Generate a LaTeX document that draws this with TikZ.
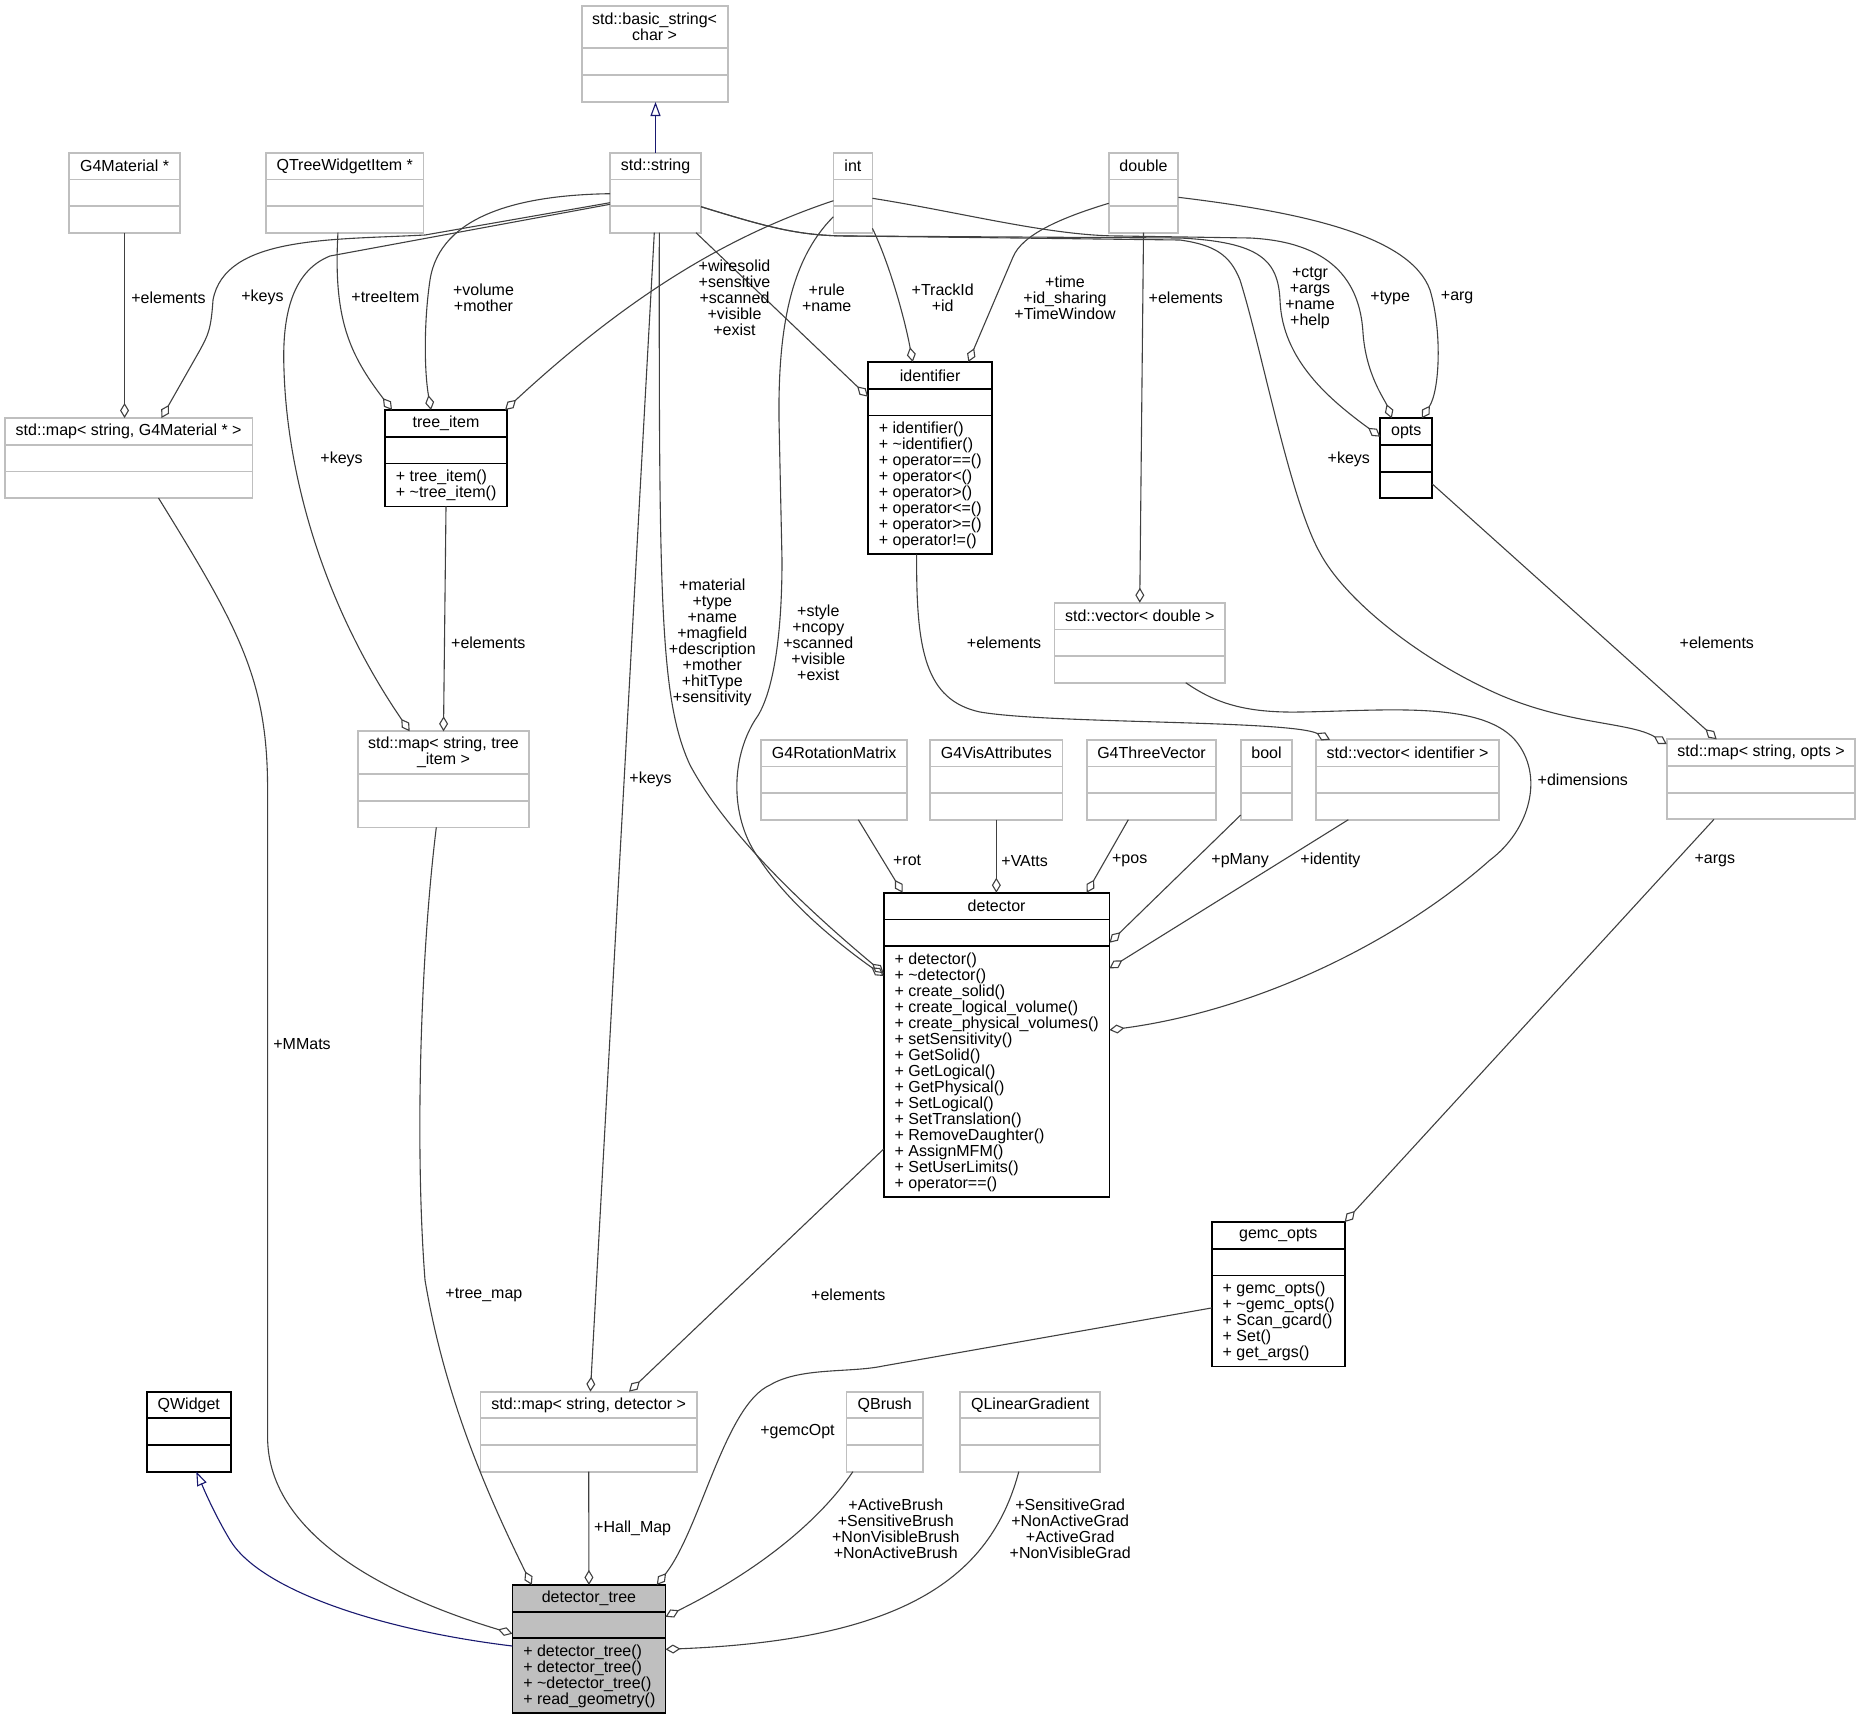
\documentclass[tikz,border=0pt]{standalone}
\usepackage{fontspec}
\setmainfont{Liberation Sans}
\usetikzlibrary{arrows.meta,calc}

\definecolor{boxgray}{HTML}{BFBFBF}
\definecolor{focusgray}{HTML}{BFBFBF}
\definecolor{edgegray}{HTML}{404040}
\definecolor{basenavy}{HTML}{191970}

\tikzset{
  classline/.style={line width=0.9pt},
  plainclass/.style={classline, draw=boxgray},
  docclass/.style={classline, draw=black},
  mainclass/.style={classline, draw=black, fill=focusgray},
  classbody/.style={anchor=north west, inner sep=0, outer sep=0},
  classtitle/.style={inner sep=0, align=center},
  classops/.style={anchor=north west, inner sep=0, align=left},
  member/.style={draw=edgegray, line width=0.55pt, -{Diamond[open, length=7.5pt, width=4.5pt]}},
  derived/.style={draw=basenavy, line width=0.55pt, -{Triangle[open, length=7pt, width=5pt]}},
  lbl/.style={inner sep=0, align=center}
}

% box: [style]{name}{left}{top}{width}{height}{header height}{title}
\newcommand{\classbox}[8][plainclass]{%
  \node[classbody, #1, minimum width=#5*0.5pt, minimum height=#6*0.5pt] (#2) at (#3,#4) {};
  \draw[#1] ($(#2.north west)+(0,#7)$) -- ($(#2.north east)+(0,#7)$);
  \draw[#1] ($(#2.north west)+(0,#7+26.7)$) -- ($(#2.north east)+(0,#7+26.7)$);
  \node[classtitle] (#2-title) at ($(#2.north)+(0,#7/2)$) {#8};
  \coordinate (#2-ops) at ($(#2.north west)+(10.5,#7+26.7+6)$);
}

\begin{document}
\begin{tikzpicture}[x=0.5pt, y=-0.5pt, font=\fontsize{8}{8}\selectfont]
  \useasboundingbox (0,0) rectangle (1861,1719);

  % top row
  \classbox{basicstring}{581.6}{6}{146}{96}{42.2}{std::basic\_string<\\char >}
  \classbox{g4mat}{69.3}{152.7}{110.5}{80}{26.7}{G4Material *}
  \classbox{qtwi}{266}{152.7}{157.5}{80}{26.7}{QTreeWidgetItem *}
  \classbox{string}{610}{152.7}{91}{80}{26.7}{std::string}
  \classbox{int}{833.4}{152.7}{39}{80}{26.7}{int}
  \classbox{double}{1108.7}{152.7}{69.6}{80}{26.7}{double}

  % second row
  \classbox{mapmat}{4.8}{418}{247.7}{80}{26.7}{std::map< string, G4Material * >}
  \classbox[docclass]{treeitem}{385}{410}{122}{96.4}{26.7}{tree\_item}
  \node[classops] (treeitem-list) at (treeitem-ops) {+ tree\_item()\\+ \textasciitilde tree\_item()};
  \classbox[docclass]{identifier}{868}{362}{124.3}{192.3}{26.7}{identifier}
  \node[classops] (identifier-list) at (identifier-ops) {+ identifier()\\+ \textasciitilde identifier()\\+ operator==()\\+ operator<()\\+ operator>()\\+ operator<=()\\+ operator>=()\\+ operator!=()};
  \classbox[docclass]{opts}{1380.3}{418.3}{52}{80}{26.7}{opts}

  % middle
  \classbox{maptree}{357.7}{731.3}{171.6}{96.1}{42.9}{std::map< string, tree\\\_item >}
  \classbox{vecdouble}{1054.5}{602.7}{170.5}{80}{26.7}{std::vector< double >}
  \classbox{rotmat}{761.3}{739.7}{145.7}{80}{26.7}{G4RotationMatrix}
  \classbox{visatt}{930.3}{739.7}{132.1}{80}{26.7}{G4VisAttributes}
  \classbox{threevec}{1086.7}{739.7}{129.6}{80}{26.7}{G4ThreeVector}
  \classbox{bool}{1240.7}{739.7}{51.6}{80}{26.7}{bool}
  \classbox{vecident}{1316}{739.7}{183.3}{80}{26.7}{std::vector< identifier >}
  \classbox{mapopts}{1666.7}{739.3}{188.6}{80}{26.7}{std::map< string, opts >}
  \classbox[docclass]{detector}{883.7}{892.7}{225.8}{304.3}{26.7}{detector}
  \node[classops] (detector-list) at (detector-ops) {+ detector()\\+ \textasciitilde detector()\\+ create\_solid()\\+ create\_logical\_volume()\\+ create\_physical\_volumes()\\+ setSensitivity()\\+ GetSolid()\\+ GetLogical()\\+ GetPhysical()\\+ SetLogical()\\+ SetTranslation()\\+ RemoveDaughter()\\+ AssignMFM()\\+ SetUserLimits()\\+ operator==()};
  \classbox[docclass]{gemcopts}{1211.8}{1222}{132.9}{144.4}{26.7}{gemc\_opts}
  \node[classops] (gemcopts-list) at (gemcopts-ops) {+ gemc\_opts()\\+ \textasciitilde gemc\_opts()\\+ Scan\_gcard()\\+ Set()\\+ get\_args()};

  % bottom
  \classbox[docclass]{qwidget}{146.9}{1391.6}{83.8}{80}{26.7}{QWidget}
  \classbox{mapdet}{480.4}{1391.6}{216.6}{80}{26.7}{std::map< string, detector >}
  \classbox{qbrush}{846.5}{1391.6}{76.5}{80}{26.7}{QBrush}
  \classbox{qlingrad}{960.2}{1391.6}{140.1}{80}{26.7}{QLinearGradient}
  \classbox[mainclass]{dtree}{512.4}{1584.9}{153.1}{128.3}{26.7}{detector\_tree}
  \node[classops] (dtree-list) at (dtree-ops) {+ detector\_tree()\\+ detector\_tree()\\+ \textasciitilde detector\_tree()\\+ read\_geometry()};

  % inheritance
  \draw[derived] (string.north) -- (string.north |- basicstring.south);
  \draw[derived] ($(dtree.north west)+(0,61.1)$) .. controls (380,1630) and (260,1590) .. (230,1540) .. controls (212,1510) and (200,1480) .. ($(qwidget.south west)+(49.4,0)$);

  % members from the top row
  \draw[member] (g4mat.south) -- (g4mat.south |- mapmat.north);
  \draw[member] ($(string.west)+(0,10)$) -- (425,235) .. controls (330,240) and (225,236) .. (213,300) .. controls (211,330) and (208,335) .. (200,350) -- ($(mapmat.north west)+(156.6,0)$);
  \draw[member] ($(qtwi.south)+(-6.8,0)$) .. controls (333,320) and (350,355) .. ($(treeitem.north west)+(7,0)$);
  \draw[member] ($(string.west)+(0,1)$) .. controls (520,195) and (440,215) .. (430,280) .. controls (424,320) and (424,370) .. ($(treeitem.north west)+(46,0)$);
  \draw[member] ($(int.west)+(0,8)$) .. controls (740,232) and (640,285) .. ($(treeitem.north east)+(-2,0)$);
  \draw[member] ($(string.south east)+(-5,0)$) -- ($(identifier.north west)+(0,34.7)$);
  \draw[member] ($(int.south east)+(0,-4.4)$) .. controls (890,265) and (905,320) .. ($(identifier.north west)+(44.7,0)$);
  \draw[member] ($(double.west)+(0,10.6)$) .. controls (1060,218) and (1022,235) .. (1013,257) -- ($(identifier.north west)+(100.3,0)$);
  \draw[member] (double.south) -- (vecdouble.north);
  \draw[member] ($(string.east)+(0,14)$) .. controls (770,228) and (800,236) .. (850,236) -- (1180,238) .. controls (1260,242) and (1278,260) .. (1280,300) .. controls (1282,360) and (1330,400) .. ($(opts.north west)+(0,18.4)$);
  \draw[member] ($(string.east)+(0,14)$) .. controls (770,228) and (800,236) .. (850,236) -- (1180,240) .. controls (1215,245) and (1230,255) .. (1240,280) .. controls (1262,350) and (1290,500) .. (1320,553) .. controls (1345,600) and (1420,660) .. (1500,695) .. controls (1570,725) and (1630,722) .. ($(mapopts.north west)+(0,4.7)$);
  \draw[member] ($(int.east)+(0,5.6)$) .. controls (960,212) and (1050,236) .. (1120,236) -- (1250,238) .. controls (1330,242) and (1360,280) .. (1363,333) .. controls (1366,375) and (1385,400) .. ($(opts.north west)+(11.4,0)$);
  \draw[member] ($(double.east)+(0,4.6)$) .. controls (1300,212) and (1410,235) .. (1430,290) .. controls (1442,330) and (1440,390) .. ($(opts.north west)+(41.4,0)$);
  \draw[member] ($(string.south)+(3.8,0)$) .. controls (659,600) and (660,700) .. (690,765) .. controls (730,840) and (820,920) .. ($(detector.north west)+(0,80.6)$);
  \draw[member] ($(int.west)+(0,24)$) .. controls (790,260) and (778,330) .. (779,420) -- (782,560) .. controls (782,650) and (770,700) .. (755,720) .. controls (730,760) and (730,820) .. (760,860) .. controls (790,905) and (840,945) .. ($(detector.north west)+(0,83.3)$);
  \draw[member] ($(string.south)+(-1.2,0)$) -- ($(mapdet.north west)+(110,0)$);
  \draw[member] ($(string.west)+(0,11.6)$) -- (330,256) .. controls (290,272) and (282,320) .. (284,370) .. controls (287,470) and (320,600) .. ($(maptree.north west)+(52,0)$);

  % members in the middle
  \draw[member] (treeitem.south) -- (maptree.north);
  \draw[member] ($(identifier.south)+(-13.5,0)$) .. controls (916,650) and (925,700) .. (980,712) .. controls (1050,724) and (1290,720) .. ($(vecident.north west)+(14,0)$);
  \draw[member] ($(vecdouble.south)+(46,0)$) .. controls (1215,703) and (1245,713) .. (1300,712) .. controls (1380,711) and (1480,700) .. (1515,740) .. controls (1545,775) and (1530,830) .. (1490,860) .. controls (1400,940) and (1260,1010) .. ($(detector.north east)+(0,137.3)$);
  \draw[member] (opts.east |- 0,484) -- ($(mapopts.north west)+(50,0)$);
  \draw[member] ($(rotmat.south)+(24.15,0)$) -- ($(detector.north west)+(19,0)$);
  \draw[member] (visatt.south) -- (visatt.south |- detector.north);
  \draw[member] ($(threevec.south)+(-23.2,0)$) -- ($(detector.north east)+(-22.8,0)$);
  \draw[member] ($(bool.south west)+(0,-4.7)$) -- ($(detector.north east)+(0,50)$);
  \draw[member] ($(vecident.south west)+(32.3,0)$) -- ($(detector.north east)+(0,75.6)$);
  \draw[member] ($(mapopts.south)+(-47,0)$) -- (gemcopts.north east);

  % members of detector_tree
  \draw[member] ($(mapmat.south)+(29.85,0)$) .. controls (240,630) and (267.6,680) .. (267.6,790) -- (267.6,1437) .. controls (267.6,1540) and (400,1600) .. ($(dtree.north west)+(0,48.8)$);
  \draw[member] ($(maptree.south)+(-7.2,0)$) .. controls (420,960) and (415,1150) .. (425,1280) .. controls (445,1400) and (490,1500) .. ($(dtree.north west)+(19.4,0)$);
  \draw[member] ($(detector.north west)+(0,256.3)$) -- ($(mapdet.north west)+(148.6,0)$);
  \draw[member] (mapdet.south) -- (dtree.north);
  \draw[member] ($(gemcopts.west)+(0,13.7)$) -- (883,1366) .. controls (850,1373) and (800,1367) .. (770,1385) .. controls (725,1405) and (700,1530) .. ($(dtree.north east)+(-8.7,0)$);
  \draw[member] ($(qbrush.south west)+(6.4,0)$) .. controls (820,1520) and (760,1570) .. ($(dtree.north east)+(0,31.9)$);
  \draw[member] ($(qlingrad.south west)+(58.6,0)$) .. controls (990,1580) and (900,1640) .. ($(dtree.north east)+(0,64.4)$);

  % labels
  \node[lbl, anchor=west] (l-matelements) at (131,297.5) {+elements};
  \node[lbl, anchor=west] (l-matkeys) at (241,297.5) {+keys};
  \node[lbl, anchor=west] (l-treeitem) at (351,297.5) {+treeItem};
  \node[lbl] (l-volume) at (483.5,297.5) {+volume\\+mother};
  \node[lbl] (l-wiresolid) at (734.5,297.5) {+wiresolid\\+sensitive\\+scanned\\+visible\\+exist};
  \node[lbl] (l-rule) at (826.7,297.9) {+rule\\+name};
  \node[lbl] (l-trackid) at (942.7,297.9) {+TrackId\\+id};
  \node[lbl] (l-time) at (1065,297.5) {+time\\+id\_sharing\\+TimeWindow};
  \node[lbl, anchor=west] (l-dblelements) at (1148.3,297.7) {+elements};
  \node[lbl] (l-ctgr) at (1310,297.9) {+ctgr\\+args\\+name\\+help};
  \node[lbl, anchor=west] (l-type) at (1370,297.7) {+type};
  \node[lbl, anchor=west] (l-arg) at (1440.5,298) {+arg};
  \node[lbl, anchor=west] (l-optkeys) at (1327.3,459) {+keys};
  \node[lbl, anchor=west] (l-treekeys) at (320,459) {+keys};
  \node[lbl, anchor=west] (l-itemelements) at (450.8,642.6) {+elements};
  \node[lbl] (l-material) at (712.3,642.7) {+material\\+type\\+name\\+magfield\\+description\\+mother\\+hitType\\+sensitivity};
  \node[lbl] (l-style) at (818.3,642.7) {+style\\+ncopy\\+scanned\\+visible\\+exist};
  \node[lbl, anchor=east] (l-idelements) at (1041.6,642.8) {+elements};
  \node[lbl, anchor=west] (l-optelements) at (1679.3,642.7) {+elements};
  \node[lbl, anchor=west] (l-detkeys) at (629,779) {+keys};
  \node[lbl, anchor=west] (l-dimensions) at (1537.3,779.5) {+dimensions};
  \node[lbl, anchor=west] (l-rot) at (892.7,860.7) {+rot};
  \node[lbl, anchor=west] (l-vatts) at (1001,860.7) {+VAtts};
  \node[lbl, anchor=west] (l-pos) at (1111.7,860.7) {+pos};
  \node[lbl, anchor=west] (l-pmany) at (1211,860.7) {+pMany};
  \node[lbl, anchor=west] (l-identity) at (1300,860.7) {+identity};
  \node[lbl, anchor=west] (l-args) at (1694.2,860.7) {+args};
  \node[lbl, anchor=west] (l-mmats) at (273,1044.4) {+MMats};
  \node[lbl, anchor=west] (l-treemap) at (445,1294.6) {+tree\_map};
  \node[lbl, anchor=west] (l-detelements) at (810.8,1294.5) {+elements};
  \node[lbl, anchor=east] (l-gemcopt) at (835,1432) {+gemcOpt};
  \node[lbl, anchor=west] (l-hallmap) at (593.8,1528.7) {+Hall\_Map};
  \node[lbl] (l-brush) at (895.8,1528.7) {+ActiveBrush\\+SensitiveBrush\\+NonVisibleBrush\\+NonActiveBrush};
  \node[lbl] (l-grad) at (1070.2,1528.7) {+SensitiveGrad\\+NonActiveGrad\\+ActiveGrad\\+NonVisibleGrad};
\end{tikzpicture}
\end{document}
